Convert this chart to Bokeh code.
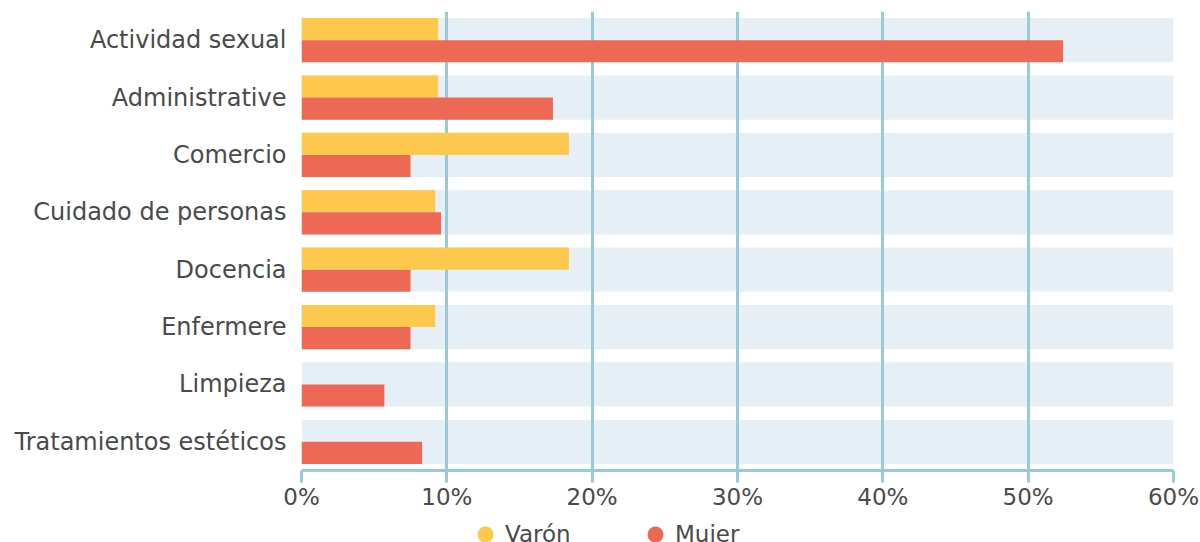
from bokeh.plotting import figure
from bokeh.layouts import column
from bokeh.models import Range1d, FactorRange, FixedTicker, Legend, LegendItem, ColumnDataSource
from bokeh.transform import dodge
from bokeh.embed import file_html
from bokeh.resources import INLINE

categories = ["Actividad sexual", "Administrative", "Comercio", "Cuidado de personas",
              "Docencia", "Enfermere", "Limpieza", "Tratamientos estéticos"]
varon = [9.4, 9.4, 18.4, 9.2, 18.4, 9.2, 0.0, 0.0]
mujer = [52.4, 17.3, 7.5, 9.6, 7.5, 7.5, 5.7, 8.3]
band_max = [60] * len(categories)
tick_values = [0, 10, 20, 30, 40, 50, 60]
tick_labels = ["0%", "10%", "20%", "30%", "40%", "50%", "60%"]
series_names = ["Varón", "Mujer"]

YELLOW = "#FEC84D"
RED = "#EE6856"
BAND = "#E7EFF6"
GRID = "#9ACAD7"
TEXT = "#4A4A4A"
FONT = "DejaVu Sans"
FS = "23px"

src = ColumnDataSource(dict(cat=categories, varon=varon, mujer=mujer, band=band_max))

p = figure(width=1200, height=512, output_backend="svg", toolbar_location=None,
           y_range=FactorRange(*reversed(categories)), x_range=Range1d(0, 60),
           min_border_left=301, min_border_right=27, min_border_top=11, min_border_bottom=41)
p.outline_line_color = None
p.background_fill_color = "white"

band = p.hbar(y="cat", right="band", left=0, height=0.77, source=src,
              fill_color=BAND, line_color=None)
band.level = "image"

rv = p.hbar(y=dodge("cat", 0.1925, range=p.y_range), right="varon", left=0, height=0.385,
            source=src, fill_color=YELLOW, line_color=None)
rm = p.hbar(y=dodge("cat", -0.1925, range=p.y_range), right="mujer", left=0, height=0.385,
            source=src, fill_color=RED, line_color=None)

p.xaxis.ticker = FixedTicker(ticks=tick_values)
p.xaxis.major_label_overrides = {v: l for v, l in zip(tick_values, tick_labels)}
p.xaxis.axis_line_color = GRID
p.xaxis.axis_line_width = 3
p.xaxis.major_tick_line_color = GRID
p.xaxis.major_tick_line_width = 3
p.xaxis.major_tick_in = 0
p.xaxis.major_tick_out = 12
p.xaxis.minor_tick_line_color = None
p.xaxis.major_label_standoff = 1
p.xaxis.major_label_text_font = FONT
p.xaxis.major_label_text_font_size = FS
p.xaxis.major_label_text_color = TEXT

p.yaxis.axis_line_color = None
p.yaxis.major_tick_line_color = None
p.yaxis.minor_tick_line_color = None
p.yaxis.major_label_standoff = 9
p.yaxis.major_label_text_font = FONT
p.yaxis.major_label_text_font_size = "24px"
p.yaxis.major_label_text_color = TEXT

p.xgrid.grid_line_color = GRID
p.xgrid.grid_line_width = 3
p.xgrid.ticker = FixedTicker(ticks=tick_values)
p.ygrid.grid_line_color = None

# legend strip below the chart (swatch renderers sit outside the strip's visible range)
lg = figure(width=1200, height=30, output_backend="svg", toolbar_location=None,
            x_axis_location=None, y_axis_location=None,
            x_range=Range1d(0, 1), y_range=Range1d(0, 1),
            min_border_left=0, min_border_right=0, min_border_top=0, min_border_bottom=0)
lg.outline_line_color = None
lg.grid.grid_line_color = None
lv = lg.scatter(x=[-5], y=[-5], marker="circle", size=17, fill_color=YELLOW, line_color=None)
lm = lg.scatter(x=[-5], y=[-5], marker="circle", size=17, fill_color=RED, line_color=None)

legend = Legend(items=[LegendItem(label=series_names[0], renderers=[lv]),
                       LegendItem(label=series_names[1], renderers=[lm])],
                orientation="horizontal", location=(164, -12),
                glyph_width=40, glyph_height=40, label_height=17,
                label_standoff=-6, label_width=130, spacing=0,
                padding=0, margin=0, border_line_color=None, background_fill_alpha=0,
                label_text_font=FONT, label_text_font_size=FS, label_text_color=TEXT)
lg.add_layout(legend, "center")

layout = column(p, lg, spacing=0)
open("out.html", "w").write(file_html(layout, INLINE))
